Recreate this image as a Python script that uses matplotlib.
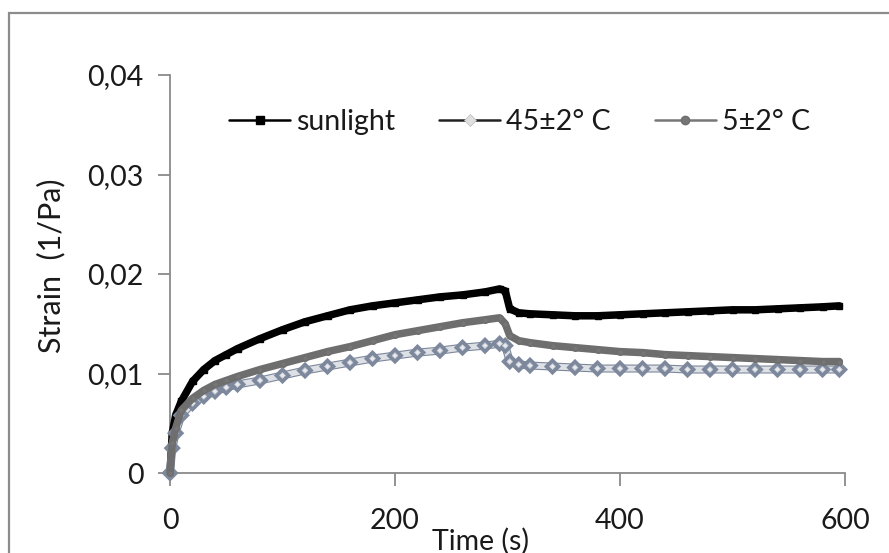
import matplotlib
matplotlib.use("Agg")
import matplotlib.pyplot as plt
import matplotlib.patheffects as pe
from matplotlib.patches import Rectangle

plt.rcParams['font.family'] = ['Lato', 'DejaVu Sans']

# ---- data ----
time_s = [0, 2, 5, 10, 20, 30, 40, 50, 60, 80, 100, 120, 140, 160, 180, 200,
          220, 240, 260, 280, 293, 298, 302, 310, 320, 340, 360, 380, 400,
          420, 440, 460, 480, 500, 520, 540, 560, 580, 595]

sunlight = [0.0, 0.0040, 0.0058, 0.0072, 0.0092, 0.0104, 0.0113, 0.0119, 0.0125,
            0.0135, 0.0144, 0.0152, 0.0158, 0.0164, 0.0168, 0.0171, 0.0174,
            0.0177, 0.0179, 0.0182, 0.0185, 0.0183, 0.0165, 0.0161, 0.0160,
            0.0159, 0.0158, 0.0158, 0.0159, 0.0160, 0.0161, 0.0162, 0.0163,
            0.0164, 0.0164, 0.0165, 0.0166, 0.0167, 0.0168]

t45 = [0.0, 0.0025, 0.0040, 0.0058, 0.0070, 0.0077, 0.0082, 0.0086, 0.0089,
       0.0093, 0.0098, 0.0103, 0.0107, 0.0111, 0.0115, 0.0118, 0.0121, 0.0123,
       0.0126, 0.0128, 0.0130, 0.0128, 0.0112, 0.0109, 0.0108, 0.0107, 0.0106,
       0.0105, 0.0105, 0.0105, 0.0105, 0.0104, 0.0104, 0.0104, 0.0104, 0.0104,
       0.0104, 0.0104, 0.0104]

t5 = [0.0, 0.0030, 0.0045, 0.0063, 0.0075, 0.0083, 0.0089, 0.0093, 0.0097,
      0.0104, 0.0110, 0.0116, 0.0122, 0.0127, 0.0133, 0.0139, 0.0143, 0.0147,
      0.0151, 0.0154, 0.0156, 0.0150, 0.0138, 0.0133, 0.0131, 0.0128, 0.0126,
      0.0124, 0.0122, 0.0121, 0.0119, 0.0118, 0.0117, 0.0116, 0.0115, 0.0114,
      0.0113, 0.0112, 0.0112]

series_labels = ['sunlight', '45±2° C', '5±2° C']
x_ticks = [0, 200, 400, 600]
y_ticks = [0, 0.01, 0.02, 0.03, 0.04]
y_tick_labels = ['0', '0,01', '0,02', '0,03', '0,04']

W, H = 889, 553
fig = plt.figure(figsize=(W / 100, H / 100), dpi=100)
fig.patch.set_facecolor('white')

# outer chart frame
fig.patches.append(Rectangle((9 / W, -0.05), 1.1, 1 - 13 / H + 0.05,
                             transform=fig.transFigure, fill=False,
                             edgecolor='#8c8c8c', linewidth=1.6, clip_on=False))

ax = fig.add_axes([170 / W, 1 - 473 / H, 675 / W, 398 / H])

axis_col = '#8a8a8a'
for s in ['top', 'right']:
    ax.spines[s].set_visible(False)
for s in ['left', 'bottom']:
    ax.spines[s].set_color(axis_col)
    ax.spines[s].set_linewidth(1.3)

ax.plot(time_s, sunlight, color='black', lw=5.4, marker='s', ms=4,
        mfc='black', mec='black', label=series_labels[0], zorder=3,
        clip_on=False, solid_capstyle='round', solid_joinstyle='round')
ax.plot(time_s, t45, color='#dde0e5', lw=4.2, marker='D', ms=3,
        mfc='#e8eaee', mec='#c3c9d3', mew=0.5, label=series_labels[1],
        zorder=4, clip_on=False, solid_capstyle='round',
        solid_joinstyle='round',
        path_effects=[pe.Stroke(linewidth=5.8, foreground='#7d889c'),
                      pe.Normal()])
ax.plot(time_s, t5, color='#6e6e6e', lw=5.4, marker='o', ms=4,
        mfc='#767676', mec='#6e6e6e', label=series_labels[2], zorder=5,
        clip_on=False, solid_capstyle='round', solid_joinstyle='round')

ax.set_xlim(0, 600)
ax.set_ylim(0, 0.04)
ax.set_xticks(x_ticks)
ax.set_xticklabels([str(v) for v in x_ticks])
ax.set_yticks(y_ticks)
ax.set_yticklabels(y_tick_labels)
ax.tick_params(axis='both', colors=axis_col, labelcolor='#1a1a1a',
               labelsize=20.5, length=9, width=1.3, direction='out')
ax.tick_params(axis='x', pad=16)
ax.tick_params(axis='y', pad=10)

fig.text(480 / W, 1 - 541 / H, 'Time (s)', ha='center', va='center',
         fontsize=20.5, color='#1a1a1a')
fig.text(51 / W, 1 - 266 / H, 'Strain  (1/Pa)', ha='center', va='center',
         rotation=90, fontsize=22, color='#1a1a1a')

leg = ax.legend(loc='center left', bbox_to_anchor=(229 / W, 1 - 122 / H),
                bbox_transform=fig.transFigure, ncol=3, frameon=False,
                fontsize=20.5, handlelength=2.15, handletextpad=0.2,
                columnspacing=1.55, borderpad=0, borderaxespad=0)
for line in leg.get_lines():
    line.set_linewidth(1.8)
    line.set_markersize(6)
    line.set_path_effects([])
leg_lines = leg.get_lines()
leg_lines[1].set_color('#222222')
leg_lines[1].set_markerfacecolor('#e0e0e0')
leg_lines[1].set_markeredgecolor('#bbbbbb')
leg_lines[2].set_color('#777777')
for t in leg.get_texts():
    t.set_color('#1a1a1a')

fig.savefig('out.png', dpi=100)
